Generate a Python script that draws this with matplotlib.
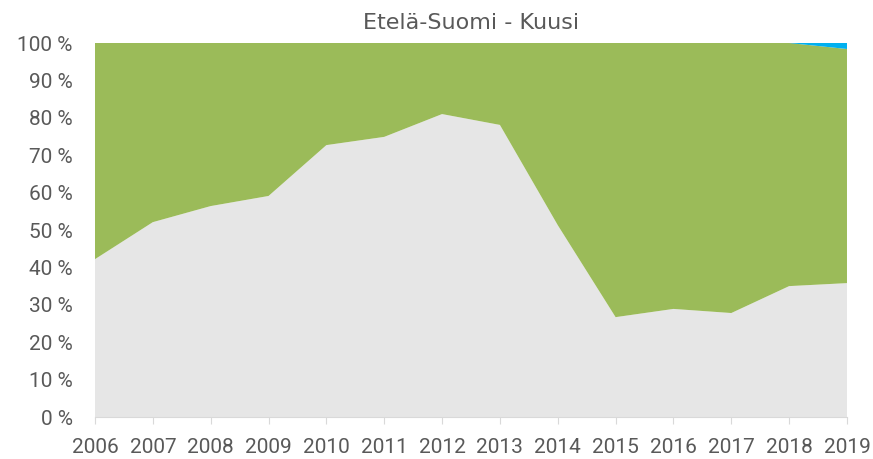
import matplotlib
matplotlib.use('Agg')
import matplotlib.pyplot as plt
import numpy as np

years = [2006, 2007, 2008, 2009, 2010, 2011, 2012, 2013, 2014, 2015, 2016, 2017, 2018, 2019]
grey_pct = [42.2, 52.1, 56.4, 59.1, 72.7, 74.9, 81.0, 78.1, 51.3, 26.7, 28.9, 27.8, 35.0, 35.8]
blue_pct = [0, 0, 0, 0, 0, 0, 0, 0, 0, 0, 0, 0, 0.0, 1.6]
green_pct = [100 - g - b for g, b in zip(grey_pct, blue_pct)]

fig = plt.figure(figsize=(8.73, 4.59), dpi=100)
ax = fig.add_axes([0.1088, 0.0915, 0.8614, 0.8148])

ax.stackplot(years, grey_pct, green_pct, blue_pct,
             colors=['#E6E6E6', '#9BBB59', '#00B0F0'], linewidth=0)
ax.axhline(100, color='#D9D9D9', lw=0.8, zorder=0)

ax.set_xlim(years[0], years[-1])
ax.set_ylim(0, 100)
ax.set_xticks(years)
ax.set_xticklabels([str(y) for y in years])
ax.set_yticks(np.arange(0, 101, 10))
ax.set_yticklabels([f'{v} %' for v in range(0, 101, 10)])

for s in ['top', 'right', 'left']:
    ax.spines[s].set_visible(False)
ax.spines['bottom'].set_color('#D9D9D9')
ax.tick_params(axis='y', length=0, pad=16, labelsize=15, colors='#595959')
ax.tick_params(axis='x', length=5, color='#D9D9D9', pad=10, labelsize=15, colors='#595959')
for lab in ax.get_xticklabels() + ax.get_yticklabels():
    lab.set_family(['Roboto', 'DejaVu Sans'])

ax.set_title('Etelä-Suomi - Kuusi', fontsize=16, color='#595959', pad=10,
             family=['DejaVu Sans'])

fig.savefig('out.png', dpi=100)
